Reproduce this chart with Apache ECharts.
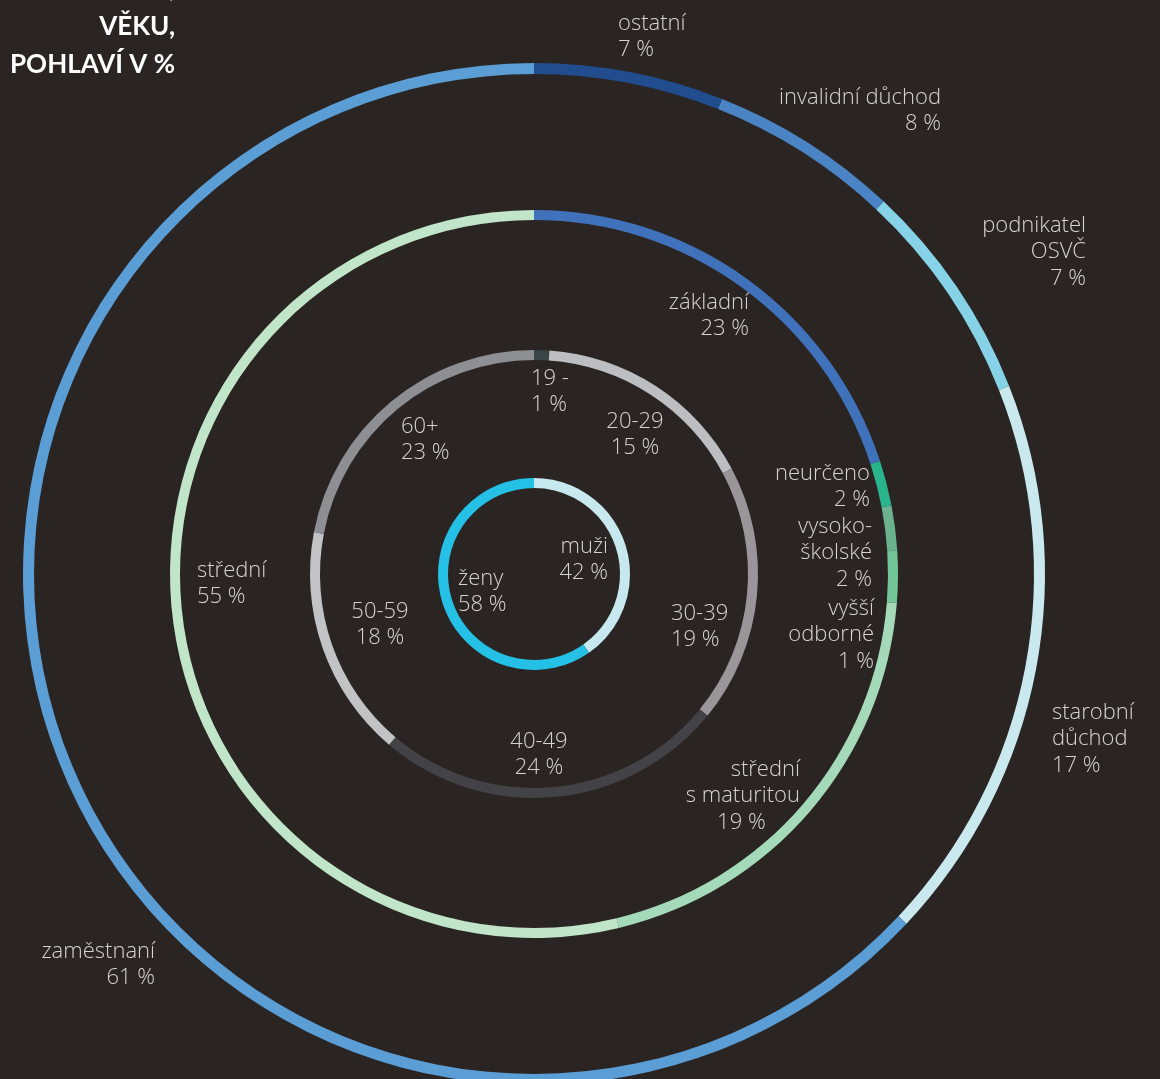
<!DOCTYPE html>
<html>
<head>
<meta charset="utf-8">
<script src="https://cdn.jsdelivr.net/npm/echarts@6/dist/echarts.min.js"></script>
<style>
  html, body { margin: 0; padding: 0; background: #2a2523; }
  #chart { width: 1160px; height: 1079px; }
</style>
</head>
<body>
<div id="chart"></div>
<script>
// data (arc sizes), label text as printed
const statusNames = ['ostatní', 'invalidní důchod', 'podnikatel\nOSVČ', 'starobní\ndůchod', 'zaměstnaní'];
const statusValues = [6, 6, 7, 18, 63];
const statusLabels = ['7 %', '8 %', '7 %', '17 %', '61 %'];

const eduNames = ['základní', 'neurčeno', 'vysoko-\nškolské', 'vyšší\nodborné', 'střední\ns maturitou', 'střední'];
const eduValues = [20, 2, 2, 2.3, 20, 53.8];
const eduLabels = ['23 %', '2 %', '2 %', '1 %', '19 %', '55 %'];

const ageNames = ['19 -', '20-29', '30-39', '40-49', '50-59', '60+'];
const ageValues = [1.1, 16.1, 18.7, 25.3, 16.8, 22];
const ageLabels = ['1 %', '15 %', '19 %', '24 %', '18 %', '23 %'];

const sexNames = ['muži', 'ženy'];
const sexValues = [40.3, 59.7];
const sexLabels = ['42 %', '58 %'];

const titleLines = ['VZDĚLÁNÍ,', 'VĚKU,', 'POHLAVÍ V %'];

// colours
const statusColors = ['#214d8f', '#4a84c4', '#86d3e8', '#c9e9ee', '#5b9ed6'];
const eduColors = ['#3f72bb', '#2ab48c', '#6bb28f', '#72c69a', '#a4dab9', '#c1e5c8'];
const ageColors = ['#3a4548', '#bcbec1', '#9a9598', '#434246', '#c2c3c5', '#8e8f93'];
const sexColors = ['#c7e8ee', '#24c0e6'];

// label anchor: [x, y of first line centre, align]
const statusPos = [[618, 22, 'left'], [941, 96, 'right'], [1086, 224, 'right'], [1052, 711, 'left'], [155, 950, 'right']];
const eduPos = [[749, 301, 'right'], [870, 472, 'right'], [872, 525, 'right'], [874, 607, 'right'], [800, 768, 'right'], [197, 569, 'left']];
const agePos = [[531, 377, 'left'], [635, 420, 'center'], [671, 612, 'left'], [539, 740, 'center'], [380, 610, 'center'], [401, 425, 'left']];
const sexPos = [[608, 545, 'right'], [458, 577, 'left']];

const center = [534, 574];
const lineH = 26.5;
const labelFont = '300 22px "Open Sans", Lato, sans-serif';

const ring = (names, values, colors, radius) => ({
  type: 'pie',
  center: center,
  radius: radius,
  startAngle: 90,
  clockwise: true,
  silent: true,
  label: { show: false },
  labelLine: { show: false },
  emphasis: { disabled: true },
  itemStyle: { borderWidth: 0 },
  data: names.map((n, i) => ({ name: n, value: values[i], itemStyle: { color: colors[i] } }))
});

const labelTexts = (names, pcts, pos) => names.map((n, i) => {
  // "19 %" under "s maturitou" sits left of the right edge
  const pct = n === 'střední\ns maturitou' ? pcts[i] + '      ' : pcts[i];
  return {
    type: 'text',
    silent: true,
    style: {
      x: pos[i][0],
      y: pos[i][1] - lineH / 2 + 1.5,
      text: n + '\n' + pct,
      align: pos[i][2],
      verticalAlign: 'top',
      lineHeight: lineH,
      fill: '#d6d4d2',
      font: labelFont
    }
  };
});

const graphics = [
  ...labelTexts(statusNames, statusLabels, statusPos),
  ...labelTexts(eduNames, eduLabels, eduPos),
  ...labelTexts(ageNames, ageLabels, agePos),
  ...labelTexts(sexNames, sexLabels, sexPos),
  ...titleLines.map((t, i) => ({
    type: 'text',
    silent: true,
    style: {
      x: 175,
      y: -11 + i * 38,
      text: t,
      align: 'right',
      verticalAlign: 'middle',
      fill: '#ffffff',
      font: 'bold 26px Lato, "Open Sans", sans-serif'
    }
  }))
];

const chart = echarts.init(document.getElementById('chart'), null, { renderer: 'canvas' });
chart.setOption({
  backgroundColor: '#2a2523',
  animation: false,
  series: [
    ring(statusNames, statusValues, statusColors, [500, 511]),
    ring(eduNames, eduValues, eduColors, [354, 364]),
    ring(ageNames, ageValues, ageColors, [214, 224]),
    ring(sexNames, sexValues, sexColors, [86, 96])
  ],
  graphic: graphics
});
</script>
</body>
</html>
